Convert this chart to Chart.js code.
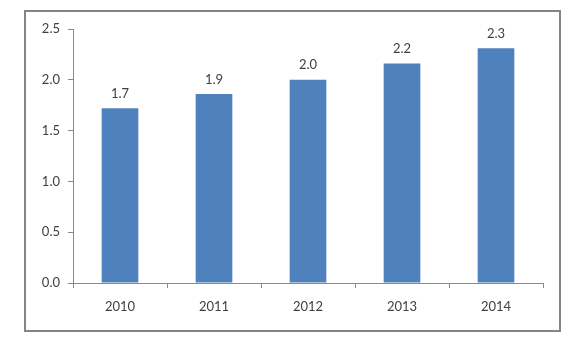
<!DOCTYPE html>
<html>
<head>
<meta charset="utf-8">
<script src="https://cdn.jsdelivr.net/npm/chart.js@4"></script>
<style>
  html, body { margin: 0; padding: 0; background: #fff; }
  #wrap { position: relative; width: 580px; height: 359px; }
</style>
</head>
<body>
<div id="wrap"><canvas id="chart" width="580" height="359"></canvas></div>
<script>
// data
const years = ['2010', '2011', '2012', '2013', '2014'];
const values = [1.72, 1.86, 2.0, 2.16, 2.31];
const yTicks = [0, 0.5, 1.0, 1.5, 2.0, 2.5];

const textColor = '#404040';
const axisColor = '#8a8a8a';

// frame round the whole chart
const framePlugin = {
    id: 'frame',
    beforeDraw(chart) {
        const c = chart.ctx;
        c.save();
        c.strokeStyle = '#858585';
        c.lineWidth = 2;
        c.strokeRect(25, 11, 535, 320);
        c.restore();
    }
};

// value labels above the bars
const barLabels = {
    id: 'barLabels',
    afterDatasetsDraw(chart) {
        const c = chart.ctx;
        const meta = chart.getDatasetMeta(0);
        c.save();
        c.font = '13px Lato';
        c.fillStyle = textColor;
        c.textAlign = 'center';
        c.textBaseline = 'bottom';
        meta.data.forEach((bar, i) => {
            c.fillText(values[i].toFixed(1), bar.x, bar.y - 8);
        });
        c.restore();
    }
};

new Chart(document.getElementById('chart'), {
    type: 'bar',
    data: {
        labels: years,
        datasets: [{
            data: values,
            backgroundColor: '#4f81bd',
            borderWidth: 0,
            categoryPercentage: 1,
            barPercentage: 0.39
        }]
    },
    options: {
        responsive: false,
        animation: false,
        events: [],
        layout: { padding: { left: 20, right: 37, top: 29, bottom: 46 } },
        plugins: {
            legend: { display: false },
            tooltip: { enabled: false }
        },
        scales: {
            x: {
                offset: true,
                grid: {
                    offset: true,
                    drawOnChartArea: false,
                    drawTicks: true,
                    tickLength: 5,
                    color: axisColor
                },
                border: { color: axisColor, width: 1 },
                ticks: { color: textColor, font: { family: 'Lato', size: 13 }, padding: 11 },
                afterFit(s) { s.height = 30; }
            },
            y: {
                min: 0,
                max: 2.5,
                afterBuildTicks(s) { s.ticks = yTicks.map(v => ({ value: v })); },
                grid: {
                    drawOnChartArea: false,
                    drawTicks: true,
                    tickLength: 5,
                    color: axisColor
                },
                border: { color: axisColor, width: 1 },
                ticks: {
                    color: textColor,
                    font: { family: 'Lato', size: 13 },
                    padding: 8,
                    callback: v => Number(v).toFixed(1)
                },
                afterFit(s) { s.width = 53; }
            }
        }
    },
    plugins: [framePlugin, barLabels]
});
</script>
</body>
</html>
